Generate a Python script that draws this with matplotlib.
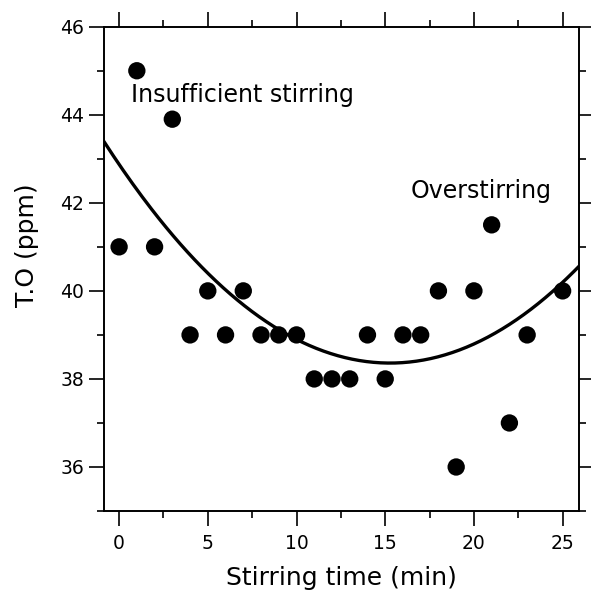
import matplotlib
matplotlib.use("Agg")
import matplotlib.pyplot as plt
import numpy as np
from matplotlib.ticker import MultipleLocator

# stirring time (min) and total oxygen (ppm)
time_min = [0, 1, 2, 3, 4, 5, 6, 7, 8, 9, 10, 11, 12, 13, 14, 15, 16, 17,
            18, 19, 20, 21, 22, 23, 25]
to_ppm = [41, 45, 41, 43.9, 39, 40, 39, 40, 39, 39, 39, 38, 38, 38, 39, 38,
          39, 39, 40, 36, 40, 41.5, 37, 39, 40]

# quadratic trend line coefficients (a*x^2 + b*x + c)
fit_coef = [0.01936, -0.5912, 42.874]

x_lim = (-0.85, 25.9)
y_lim = (35, 46)

plt.rcParams['font.family'] = ['DejaVu Sans']

fig = plt.figure(figsize=(5.91, 5.94), dpi=100)
ax = fig.add_axes([0.176, 0.1397, 0.803, 0.8153])

xs = np.linspace(x_lim[0], x_lim[1], 200)
ax.plot(xs, np.polyval(fit_coef, xs), color='black', lw=2.4, zorder=2)
ax.scatter(time_min, to_ppm, s=156, color='black', edgecolors='none', zorder=3)

ax.text(0.68, 44.29, 'Insufficient stirring', fontsize=17, ha='left', va='baseline')
ax.text(16.44, 42.12, 'Overstirring', fontsize=17, ha='left', va='baseline')

ax.set_xlim(*x_lim)
ax.set_ylim(*y_lim)
ax.xaxis.set_major_locator(MultipleLocator(5))
ax.xaxis.set_minor_locator(MultipleLocator(2.5))
ax.yaxis.set_major_locator(MultipleLocator(2))
ax.yaxis.set_minor_locator(MultipleLocator(1))

for s in ax.spines.values():
    s.set_linewidth(1.4)

ax.tick_params(which='both', direction='out', top=True, right=True, width=1.2,
               labelsize=13.5, color='black')
ax.tick_params(which='major', length=10.5)
ax.tick_params(which='minor', length=5)
ax.tick_params(axis='x', which='major', pad=6)
ax.tick_params(axis='y', which='major', pad=4)

ax.set_xlabel('Stirring time (min)', fontsize=18)
ax.set_ylabel('T.O (ppm)', fontsize=18)
ax.xaxis.set_label_coords(0.5, -0.114)
ax.yaxis.set_label_coords(-0.137, 0.549)

fig.savefig('out.png', dpi=100)
